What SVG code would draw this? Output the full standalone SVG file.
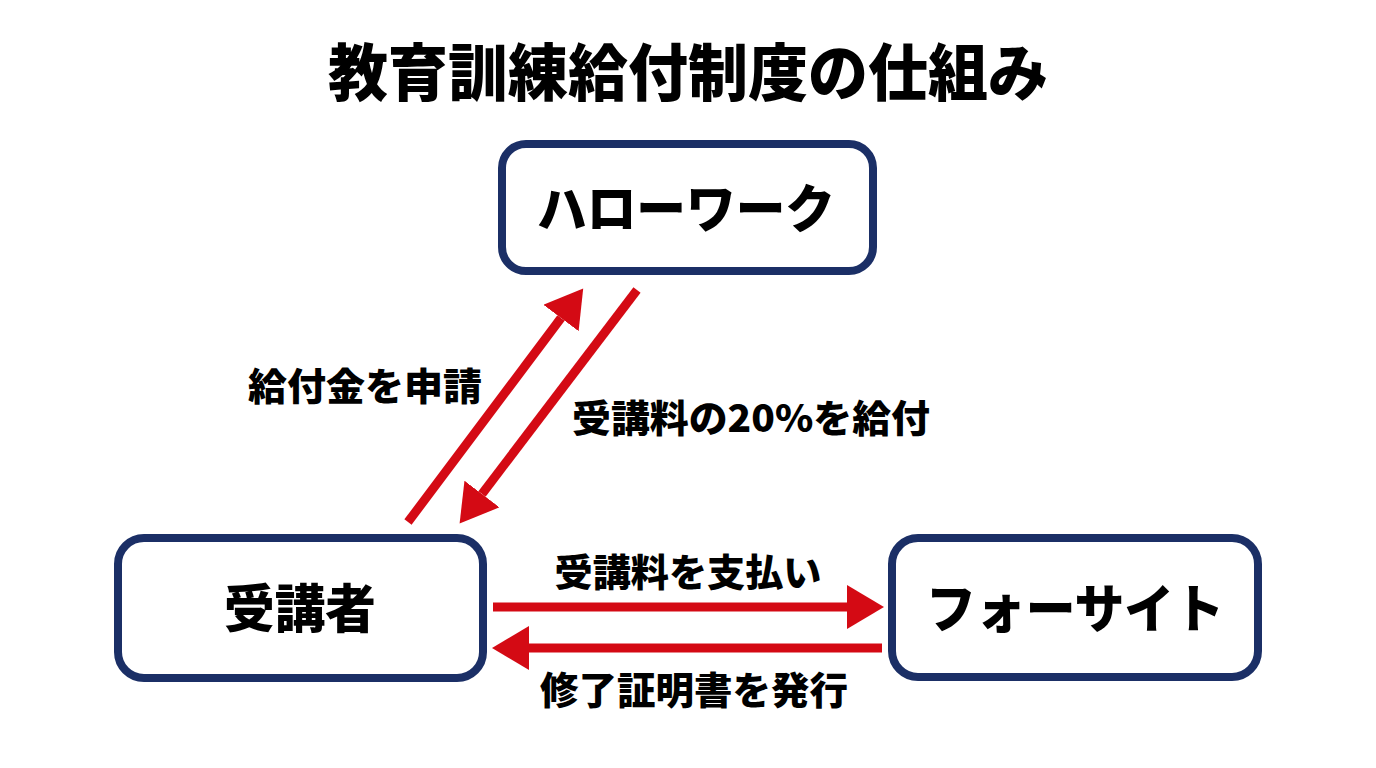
<svg xmlns="http://www.w3.org/2000/svg" width="1376" height="768" viewBox="0 0 1376 768">
  <defs>
    <style>
      .box { fill: #ffffff; stroke: #1b2f66; stroke-width: 8; }
      .t { font-family: "Noto Sans CJK JP", "Noto Sans", sans-serif; font-weight: 900; fill: #000000; text-anchor: middle; }
      .title { font-size: 62px; }
      .node { font-size: 52px; }
      .lbl { font-size: 38px; }
      .arr { stroke: #d40a14; stroke-width: 9; fill: none; }
    </style>
    <marker id="ah" markerUnits="userSpaceOnUse" markerWidth="38" markerHeight="44" viewBox="0 0 38 44" refX="0" refY="22" orient="auto">
      <path d="M0,0 L37,22 L0,44 z" fill="#d40a14"/>
    </marker>
  </defs>
  <rect width="1376" height="768" fill="#ffffff"/>

  <text class="t title" x="688" y="96" textLength="720" lengthAdjust="spacingAndGlyphs">教育訓練給付制度の仕組み</text>

  <g id="hellowork">
    <rect class="box" x="502" y="144" width="371" height="127" rx="24"/>
    <text class="t node" x="686" y="228" textLength="298" lengthAdjust="spacingAndGlyphs">ハローワーク</text>
  </g>
  <g id="jukosha">
    <rect class="box" x="118" y="538" width="365" height="140" rx="26"/>
    <text class="t node" x="300" y="628" textLength="152" lengthAdjust="spacingAndGlyphs">受講者</text>
  </g>
  <g id="foresight">
    <rect class="box" x="892" y="538" width="366" height="139" rx="26"/>
    <text class="t node" x="1075" y="628" textLength="298" lengthAdjust="spacingAndGlyphs">フォーサイト</text>
  </g>

  <g id="connectors">
    <line class="arr" x1="408" y1="522" x2="561" y2="318" marker-end="url(#ah)"/>
    <line class="arr" x1="637" y1="290" x2="482" y2="494" marker-end="url(#ah)"/>
    <line class="arr" x1="493" y1="607" x2="847" y2="607" marker-end="url(#ah)"/>
    <line class="arr" x1="882" y1="648" x2="529" y2="648" marker-end="url(#ah)"/>
  </g>

  <g id="labels">
    <text class="t lbl" x="365" y="400" textLength="234" lengthAdjust="spacingAndGlyphs">給付金を申請</text>
    <text class="t lbl" x="751" y="432" textLength="358" lengthAdjust="spacingAndGlyphs">受講料の20%を給付</text>
    <text class="t lbl" x="688" y="586" textLength="267" lengthAdjust="spacingAndGlyphs">受講料を支払い</text>
    <text class="t lbl" x="694" y="704" textLength="308" lengthAdjust="spacingAndGlyphs">修了証明書を発行</text>
  </g>
</svg>
